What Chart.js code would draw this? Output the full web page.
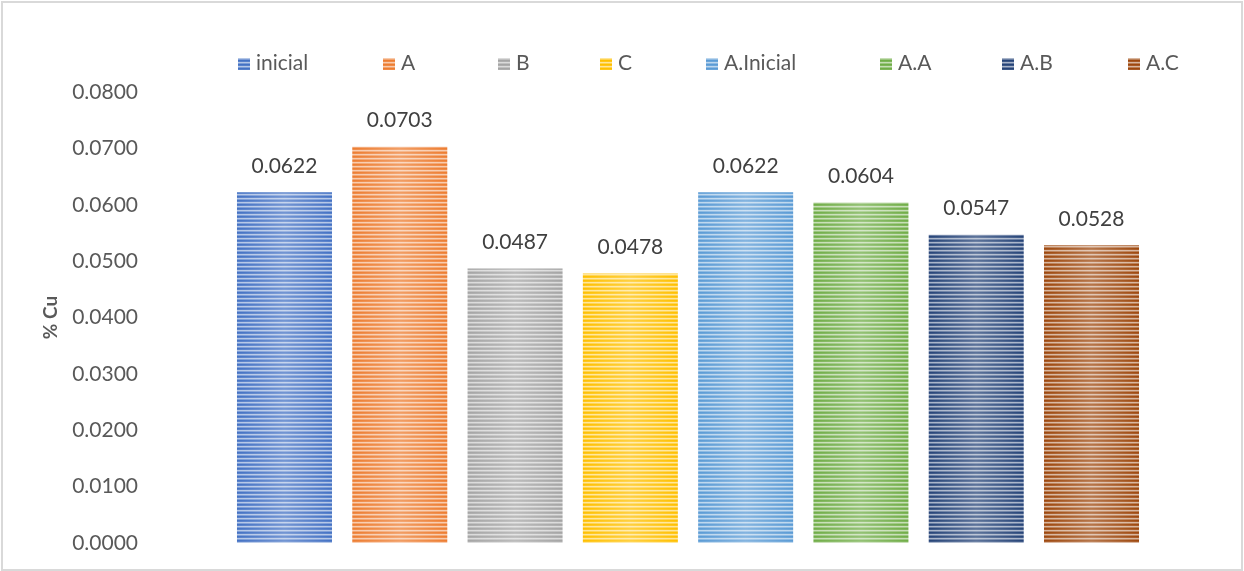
<!DOCTYPE html>
<html>
<head>
<meta charset="utf-8">
<script src="https://cdn.jsdelivr.net/npm/chart.js@4/dist/chart.umd.min.js"></script>
<style>
  html, body { margin: 0; padding: 0; background: #fff; }
  #wrap { width: 1244px; height: 571px; }
</style>
</head>
<body>
<div id="wrap"><canvas id="c" width="1244" height="571"></canvas></div>
<script>
// Copper content (% Cu) per sample
const seriesNames = ['inicial', 'A', 'B', 'C', 'A.Inicial', 'A.A', 'A.B', 'A.C'];
const cuValues = [0.0622, 0.0703, 0.0487, 0.0478, 0.0622, 0.0604, 0.0547, 0.0528];
const seriesColors = ['#4472C4', '#ED7D31', '#A5A5A5', '#FFC000', '#5B9BD5', '#70AD47', '#264478', '#9E480E'];
const yAxisTitle = '% Cu';

// horizontal positions of the legend entries
const legendX = [238, 383, 498, 600, 706, 880, 1002, 1128];

const FONT = 'Lato, "Open Sans", sans-serif';
const TEXT_GREY = '#595959';

function tint(hex, t) {
  const n = parseInt(hex.slice(1), 16);
  const r = n >> 16, g = (n >> 8) & 255, b = n & 255;
  const f = v => Math.round(v + (255 - v) * t);
  return `rgb(${f(r)},${f(g)},${f(b)})`;
}

// narrow horizontal stripe fill
function stripes(hex) {
  const c = document.createElement('canvas');
  c.width = 4; c.height = 4;
  const x = c.getContext('2d');
  [0, 0.1, 0.6, 0.3].forEach((t, i) => {
    x.fillStyle = tint(hex, t);
    x.fillRect(0, i, 4, 1);
  });
  return x.createPattern(c, 'repeat');
}

const patterns = seriesColors.map(stripes);

const datasets = seriesNames.map((name, i) => ({
  label: name,
  data: [cuValues[i]],
  backgroundColor: patterns[i],
  borderWidth: 0,
  categoryPercentage: 0.854,
  barPercentage: 0.824
}));

const framePlugin = {
  id: 'frame',
  beforeDraw(chart) {
    const ctx = chart.ctx;
    ctx.save();
    ctx.fillStyle = '#ffffff';
    ctx.fillRect(0, 0, chart.width, chart.height);
    ctx.restore();
  },
  afterDraw(chart) {
    const ctx = chart.ctx;
    ctx.save();
    ctx.strokeStyle = '#d9d9d9';
    ctx.lineWidth = 2;
    ctx.strokeRect(2, 2, chart.width - 4, chart.height - 3);
    ctx.restore();
  }
};

// soft sheen across each bar plus value labels above it
const barDecorPlugin = {
  id: 'barDecor',
  afterDatasetsDraw(chart) {
    const ctx = chart.ctx;
    ctx.save();
    chart.data.datasets.forEach((ds, i) => {
      const meta = chart.getDatasetMeta(i);
      meta.data.forEach((bar, j) => {
        const { x, y, base, width } = bar.getProps(['x', 'y', 'base', 'width'], true);
        const left = x - width / 2;
        const g = ctx.createLinearGradient(left, 0, left + width, 0);
        g.addColorStop(0, 'rgba(255,255,255,0)');
        g.addColorStop(0.5, 'rgba(255,255,255,0.25)');
        g.addColorStop(1, 'rgba(255,255,255,0)');
        ctx.fillStyle = g;
        ctx.fillRect(left, y, width, base - y);

        ctx.fillStyle = '#404040';
        ctx.font = `21px ${FONT}`;
        ctx.textAlign = 'center';
        ctx.textBaseline = 'middle';
        ctx.fillText(ds.data[j].toFixed(4), x, y - 26);
      });
    });
    ctx.restore();
  }
};

const legendPlugin = {
  id: 'rowLegend',
  afterDraw(chart) {
    const ctx = chart.ctx;
    ctx.save();
    ctx.font = `21px ${FONT}`;
    ctx.textAlign = 'left';
    ctx.textBaseline = 'middle';
    chart.data.datasets.forEach((ds, i) => {
      const lx = legendX[i];
      ctx.fillStyle = ds.backgroundColor;
      ctx.fillRect(lx, 58, 12, 12);
      ctx.fillStyle = TEXT_GREY;
      ctx.fillText(ds.label, lx + 18, 63);
    });
    ctx.restore();
  }
};

new Chart(document.getElementById('c'), {
  type: 'bar',
  data: { labels: [''], datasets },
  options: {
    responsive: false,
    animation: false,
    layout: { padding: { left: 0, top: 92, right: 16, bottom: 28 } },
    plugins: { legend: { display: false }, tooltip: { enabled: false } },
    scales: {
      x: { display: false },
      y: {
        min: 0,
        max: 0.08,
        ticks: {
          stepSize: 0.01,
          callback: v => Number(v).toFixed(4),
          color: TEXT_GREY,
          font: { family: FONT, size: 21 },
          padding: 10
        },
        grid: { display: false, drawTicks: false },
        border: { display: false },
        title: {
          display: true,
          text: yAxisTitle,
          color: TEXT_GREY,
          font: { family: FONT, size: 19, weight: 'bold' },
          padding: { top: 39, bottom: 0 }
        },
        afterFit(scale) { scale.width = 148; }
      }
    }
  },
  plugins: [framePlugin, barDecorPlugin, legendPlugin]
});
</script>
</body>
</html>
